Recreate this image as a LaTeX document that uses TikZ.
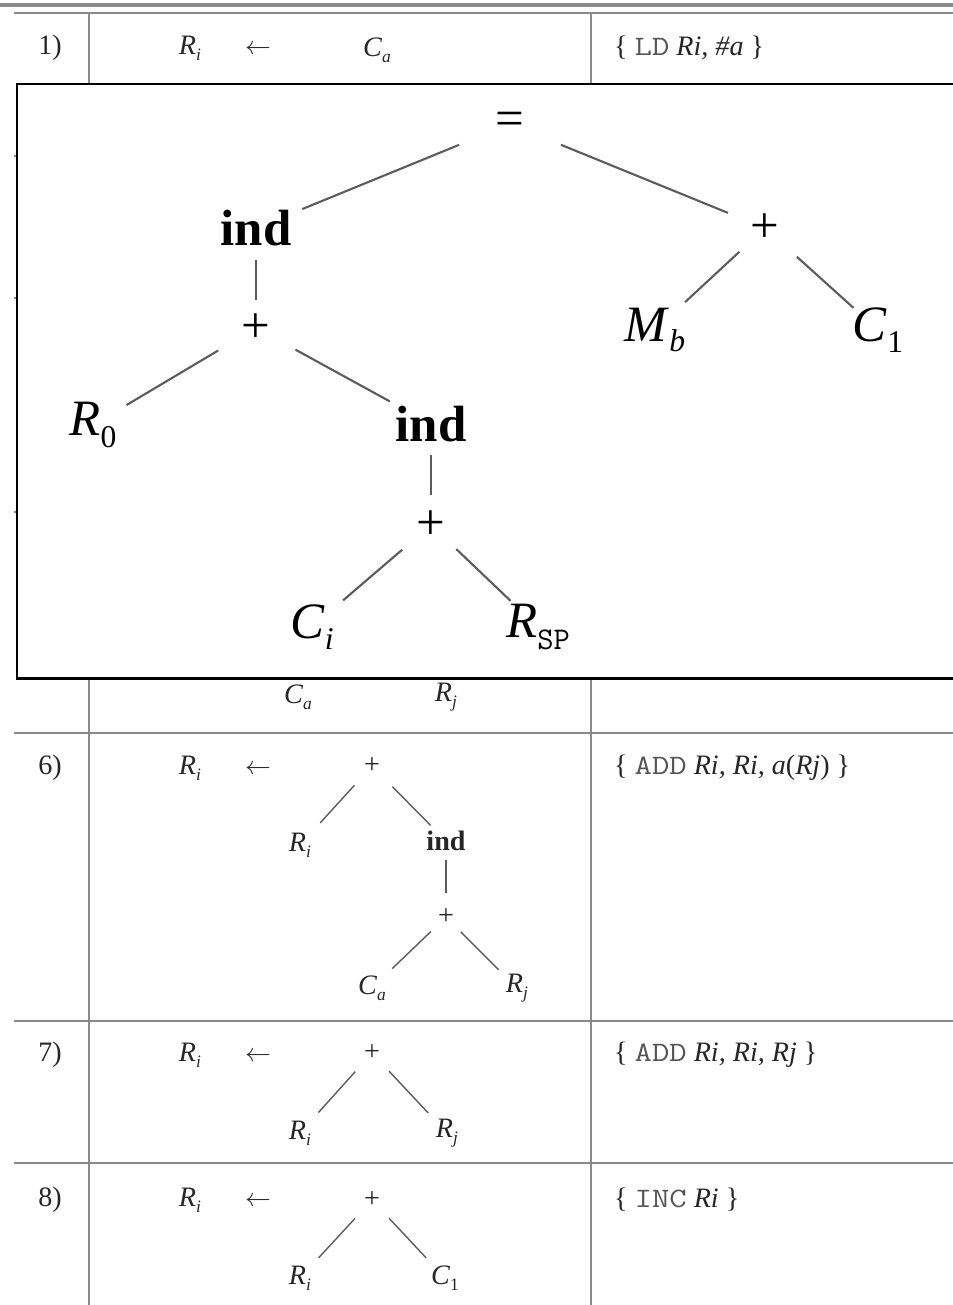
\documentclass[tikz,border=0pt]{standalone}
\usepackage{fontspec}
\usepackage{graphicx}
\setmainfont{Liberation Serif}
\definecolor{rulegray}{HTML}{8A8A8A}
\definecolor{edgegray}{HTML}{5C5C5C}
\definecolor{inkdark}{HTML}{262626}
\definecolor{opgray}{HTML}{555555}

% italic letter with italic / upright subscript
\newcommand{\itsub}[2]{\textit{#1}\raisebox{-0.45ex}{\scalebox{0.62}{\textit{#2}}}}
\newcommand{\upsub}[2]{\textit{#1}\raisebox{-0.5ex}{\scalebox{0.62}{#2}}}
\newcommand{\larr}{\scalebox{0.85}{$\leftarrow$}}
\newcommand{\opname}[1]{\textcolor{opgray}{\scalebox{1.2}[1]{\texttt{#1}}}}

\tikzset{
  cell/.style={font=\fontsize{16}{18}\selectfont, text=inkdark, inner sep=1pt},
  codecell/.style={cell, anchor=west},
  bigcell/.style={font=\fontsize{29}{32}\selectfont, text=black, inner sep=1pt},
  tablerule/.style={rulegray, line width=1pt},
  smalledge/.style={edgegray, line width=0.8pt, shorten <=0.5cm, shorten >=0.55cm},
  bigedge/.style={edgegray, line width=1.2pt}
}

\begin{document}
\begin{tikzpicture}[x=0.02cm, y=-0.02cm]
\useasboundingbox (0,0) rectangle (953,1305);
\clip (0,0) rectangle (953,1305);

% Table rules
\draw[tablerule, line width=2.2pt] (0,5) -- (953,5);
\draw[tablerule, line width=1.6pt] (14,13) -- (953,13);
\draw[tablerule] (89,13) -- (89,1305);
\draw[tablerule] (591,13) -- (591,1305);
\draw[tablerule] (14,156) -- (953,156);
\draw[tablerule] (14,298) -- (953,298);
\draw[tablerule] (14,512) -- (953,512);
\draw[tablerule] (14,733) -- (953,733);
\draw[tablerule] (14,1021) -- (953,1021);
\draw[tablerule, line width=1.6pt] (14,1163) -- (953,1163);

% Row 1
\node[cell] (n1) at (50,48) {1)};
\node[cell] (r1lhs) at (190,48) {\itsub{R}{i}};
\node[cell] (r1arr) at (258,50) {\larr};
\node[cell] (r1rhs) at (377,50) {\itsub{C}{a}};
\node[codecell] (r1code) at (612,48) {\{~\opname{LD}~\textit{Ri,~\#a}~\}};

% Row 5 (bottom of the tree, rest hidden by the box)
\node[cell] (r5ca) at (298,697) {\itsub{C}{a}};
\node[cell] (r5rj) at (446,697) {\itsub{R}{j}};

% Overlay box with the big tree
\draw[black, line width=1.7pt, fill=white] (17,84) rectangle (975,678);

\node[bigcell] (eq) at (510,124) {=};
\node[bigcell] (indl) at (256,228) {\textbf{ind}};
\node[bigcell] (plusr) at (765,228) {+};
\node[bigcell] (plusl) at (256,328) {+};
\node[bigcell] (mb) at (655,330) {\itsub{M}{b}};
\node[bigcell] (cone) at (878,330) {\upsub{C}{1}};
\node[bigcell] (rzero) at (93,425) {\upsub{R}{0}};
\node[bigcell] (indr) at (431,424) {\textbf{ind}};
\node[bigcell] (plusb) at (431,525) {+};
\node[bigcell] (ci) at (312,627) {\itsub{C}{i}};
\node[bigcell] (rsp) at (538,627) {\upsub{R}{\texttt{SP}}};

\draw[bigedge, shorten <=1.1cm, shorten >=1.0cm] (eq.center) -- (indl.center);
\draw[bigedge, shorten <=1.1cm, shorten >=0.8cm] (eq.center) -- (plusr.center);
\draw[bigedge, shorten <=0.64cm, shorten >=0.56cm] (indl.center) -- (plusl.center);
\draw[bigedge, shorten <=0.88cm, shorten >=0.78cm] (plusl.center) -- (rzero.center);
\draw[bigedge, shorten <=0.9cm, shorten >=0.94cm] (plusl.center) -- (indr.center);
\draw[bigedge, shorten <=0.7cm, shorten >=0.82cm] (plusr.center) -- (mb.center);
\draw[bigedge, shorten <=0.86cm, shorten >=0.66cm] (plusr.center) -- (cone.center);
\draw[bigedge, shorten <=0.62cm, shorten >=0.6cm] (indr.center) -- (plusb.center);
\draw[bigedge, shorten <=0.76cm, shorten >=0.82cm] (plusb.center) -- (ci.center);
\draw[bigedge, shorten <=0.7cm, shorten >=0.76cm] (plusb.center) -- (rsp.center);

% Row 6
\node[cell] (n6) at (50,768) {6)};
\node[cell] (r6lhs) at (190,768) {\itsub{R}{i}};
\node[cell] (r6arr) at (258,770) {\larr};
\node[cell] (r6plus) at (372,766) {+};
\node[cell] (r6ri) at (300,845) {\itsub{R}{i}};
\node[cell] (r6ind) at (446,841) {\textbf{ind}};
\node[cell] (r6plusb) at (446,917) {+};
\node[cell] (r6ca) at (372,988) {\itsub{C}{a}};
\node[cell] (r6rj) at (517,988) {\itsub{R}{j}};
\node[codecell] (r6code) at (612,768) {\{~\opname{ADD}~\textit{Ri,~Ri,~a}(\textit{Rj})~\}};

\draw[smalledge, shorten <=0.52cm, shorten >=0.6cm] (r6plus.center) -- (r6ri.center);
\draw[smalledge, shorten <=0.58cm, shorten >=0.44cm] (r6plus.center) -- (r6ind.center);
\draw[smalledge, shorten <=0.38cm, shorten >=0.48cm] (r6ind.center) -- (r6plusb.center);
\draw[smalledge, shorten <=0.42cm, shorten >=0.56cm] (r6plusb.center) -- (r6ca.center);
\draw[smalledge, shorten <=0.42cm, shorten >=0.52cm] (r6plusb.center) -- (r6rj.center);

% Row 7
\node[cell] (n7) at (50,1055) {7)};
\node[cell] (r7lhs) at (190,1055) {\itsub{R}{i}};
\node[cell] (r7arr) at (258,1057) {\larr};
\node[cell] (r7plus) at (372,1053) {+};
\node[cell] (r7ri) at (300,1133) {\itsub{R}{i}};
\node[cell] (r7rj) at (447,1133) {\itsub{R}{j}};
\node[codecell] (r7code) at (612,1055) {\{~\opname{ADD}~\textit{Ri,~Ri,~Rj}~\}};

\draw[smalledge] (r7plus.center) -- (r7ri.center);
\draw[smalledge] (r7plus.center) -- (r7rj.center);

% Row 8
\node[cell] (n8) at (50,1200) {8)};
\node[cell] (r8lhs) at (190,1200) {\itsub{R}{i}};
\node[cell] (r8arr) at (258,1202) {\larr};
\node[cell] (r8plus) at (372,1200) {+};
\node[cell] (r8ri) at (300,1278) {\itsub{R}{i}};
\node[cell] (r8cone) at (445,1278) {\upsub{C}{1}};
\node[codecell] (r8code) at (612,1200) {\{~\opname{INC}~\textit{Ri}~\}};

\draw[smalledge] (r8plus.center) -- (r8ri.center);
\draw[smalledge] (r8plus.center) -- (r8cone.center);

\end{tikzpicture}
\end{document}
